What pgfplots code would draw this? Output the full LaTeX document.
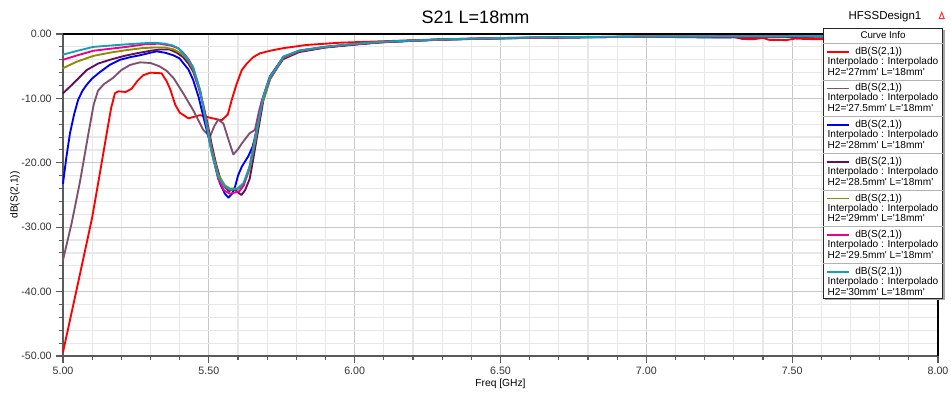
\documentclass[border=0pt]{standalone}
\usepackage{fontspec}
\setmainfont{Liberation Sans}
\usepackage{pgfplots}
\pgfplotsset{compat=1.18}
\definecolor{cRed}{RGB}{255,0,0}
\definecolor{cMauve}{RGB}{128,80,112}
\definecolor{cBlue}{RGB}{0,0,240}
\definecolor{cPurple}{RGB}{96,16,96}
\definecolor{cOlive}{RGB}{140,140,0}
\definecolor{cMag}{RGB}{236,0,140}
\definecolor{cCyan}{RGB}{20,160,180}
\definecolor{gMaj}{RGB}{200,200,200}
\definecolor{gMin}{RGB}{232,232,232}
\definecolor{axGray}{RGB}{90,90,90}
\begin{document}
\begin{tikzpicture}
\useasboundingbox (0,0) rectangle (713.25pt,295.5pt);
\begin{axis}[
  at={(47.25pt,28.5pt)}, anchor=south west,
  scale only axis, width=656.25pt, height=241.5pt,
  xmin=5, xmax=8, ymin=-50, ymax=0,
  axis lines*=left,
  axis line style={axGray, line width=1.3pt},
  xtick={5,5.5,6,6.5,7,7.5,8},
  xticklabels={5.00,5.50,6.00,6.50,7.00,7.50,8.00},
  minor xtick={5.1,5.2,5.3,5.4,5.6,5.7,5.8,5.9,6.1,6.2,6.3,6.4,6.6,6.7,6.8,6.9,7.1,7.2,7.3,7.4,7.6,7.7,7.8,7.9},
  ytick={-50,-40,-30,-20,-10,0},
  yticklabels={-50.00,-40.00,-30.00,-20.00,-10.00,0.00},
  minor ytick={-48,-46,-44,-42,-38,-36,-34,-32,-28,-26,-24,-22,-18,-16,-14,-12,-8,-6,-4,-2},
  grid=both,
  major grid style={draw=gMaj, line width=1pt},
  minor grid style={draw=gMin, line width=0.9pt},
  tick align=outside,
  major tick length=5pt, minor tick length=3pt,
  tick style={axGray, line width=0.8pt},
  ticklabel style={font=\fontsize{8}{9}\selectfont, text=black!80},
  xlabel={Freq [GHz]}, ylabel={dB(S(2,1))},
  xlabel style={font=\fontsize{7.7}{9}\selectfont, at={(axis description cs:0.5,0)}, anchor=center, yshift=-21pt},
  ylabel style={font=\fontsize{7.7}{9}\selectfont, at={(axis description cs:-0.0549,0.5)}, anchor=center},
  every axis plot/.append style={line width=1.4pt, line join=round, line cap=round},
  clip=false,
]
% 27mm
\addplot[cRed] coordinates {
(5.000,-49.4) (5.050,-39.0) (5.100,-28.5) (5.125,-22.0) (5.150,-15.4) (5.165,-11.5) (5.178,-9.2) (5.190,-8.9) (5.215,-9.0) (5.235,-8.5) (5.255,-7.3) (5.275,-6.4) (5.300,-6.0) (5.338,-6.1) (5.355,-7.3) (5.367,-8.5) (5.385,-11.0) (5.400,-12.2) (5.430,-13.1) (5.470,-12.6) (5.504,-13.0) (5.544,-13.4) (5.565,-12.5) (5.580,-10.0) (5.595,-7.8) (5.613,-5.6) (5.630,-4.6) (5.652,-3.6) (5.675,-3.0) (5.710,-2.6) (5.755,-2.2) (5.835,-1.7) (5.950,-1.35) (6.144,-1.05) (6.300,-0.82) (6.500,-0.62) (6.800,-0.47) (7.100,-0.42) (7.300,-0.45) (7.330,-0.78) (7.370,-0.80) (7.400,-0.60) (7.420,-0.90) (7.480,-0.95) (7.510,-0.70) (7.550,-0.78) (7.600,-0.80) (7.700,-0.60) (8.000,-0.40)
};
% 27.5mm
\addplot[cMauve] coordinates {
(5.000,-35.1) (5.030,-29.3) (5.058,-23.0) (5.087,-15.5) (5.105,-11.0) (5.120,-8.8) (5.140,-7.8) (5.172,-6.8) (5.200,-5.6) (5.230,-4.8) (5.264,-4.4) (5.300,-4.5) (5.330,-5.0) (5.355,-5.7) (5.380,-6.9) (5.412,-9.2) (5.446,-11.8) (5.481,-14.9) (5.504,-15.9) (5.520,-14.2) (5.532,-13.3) (5.550,-13.9) (5.568,-16.5) (5.584,-18.7) (5.600,-17.9) (5.613,-17.0) (5.640,-15.4) (5.658,-14.9) (5.672,-12.0) (5.687,-9.6) (5.710,-6.5) (5.738,-4.7) (5.755,-3.6) (5.810,-2.6) (5.900,-2.0) (6.000,-1.6) (6.090,-1.28) (6.190,-1.06) (6.300,-0.86) (6.450,-0.70) (6.600,-0.58) (6.800,-0.48) (7.000,-0.42) (7.300,-0.38) (7.600,-0.36) (8.000,-0.32)
};
% 28mm
\addplot[cBlue] coordinates {
(5.000,-23.2) (5.012,-19.0) (5.024,-15.4) (5.038,-12.5) (5.052,-10.2) (5.067,-8.8) (5.081,-7.9) (5.100,-6.9) (5.127,-5.9) (5.160,-4.8) (5.195,-4.0) (5.230,-3.6) (5.264,-3.3) (5.300,-2.9) (5.321,-2.7) (5.350,-2.9) (5.378,-3.3) (5.400,-3.8) (5.412,-4.5) (5.430,-5.5) (5.446,-7.1) (5.465,-9.8) (5.481,-12.8) (5.496,-15.5) (5.510,-18.0) (5.525,-21.0) (5.538,-23.2) (5.555,-24.8) (5.567,-25.4) (5.580,-24.8) (5.590,-23.7) (5.600,-22.0) (5.613,-20.6) (5.635,-19.0) (5.650,-17.5) (5.664,-15.0) (5.687,-9.8) (5.710,-6.6) (5.738,-4.8) (5.755,-3.6) (5.810,-2.7) (5.900,-2.05) (6.000,-1.6) (6.090,-1.27) (6.190,-1.05) (6.300,-0.85) (6.450,-0.70) (6.600,-0.60) (6.800,-0.50) (7.000,-0.42) (7.240,-0.55) (7.310,-0.50) (7.600,-0.38) (8.000,-0.32)
};
% 28.5mm
\addplot[cPurple] coordinates {
(5.000,-9.2) (5.035,-7.7) (5.081,-5.6) (5.120,-4.6) (5.161,-4.0) (5.210,-3.4) (5.252,-3.0) (5.300,-2.6) (5.333,-2.4) (5.365,-2.4) (5.390,-2.9) (5.412,-3.6) (5.430,-4.6) (5.446,-5.8) (5.465,-8.3) (5.481,-11.0) (5.496,-14.0) (5.510,-17.2) (5.525,-20.2) (5.540,-22.6) (5.555,-23.8) (5.570,-24.4) (5.585,-24.0) (5.600,-24.6) (5.612,-25.0) (5.625,-24.2) (5.640,-22.5) (5.652,-19.5) (5.667,-15.5) (5.687,-10.3) (5.710,-7.0) (5.738,-5.0) (5.755,-3.9) (5.810,-2.8) (5.900,-2.1) (6.000,-1.65) (6.090,-1.30) (6.190,-1.08) (6.300,-0.88) (6.450,-0.72) (6.600,-0.60) (6.800,-0.50) (7.000,-0.42) (7.330,-0.50) (7.450,-0.48) (7.600,-0.38) (8.000,-0.32)
};
% 29mm
\addplot[cOlive] coordinates {
(5.000,-5.3) (5.047,-4.3) (5.104,-3.4) (5.160,-2.9) (5.218,-2.5) (5.270,-2.2) (5.310,-2.1) (5.350,-2.1) (5.380,-2.4) (5.412,-3.2) (5.430,-4.2) (5.446,-5.5) (5.470,-8.8) (5.493,-13.8) (5.510,-17.8) (5.532,-21.8) (5.555,-23.5) (5.573,-24.0) (5.590,-24.0) (5.605,-24.0) (5.620,-23.3) (5.640,-21.0) (5.660,-16.5) (5.680,-11.2) (5.710,-7.0) (5.738,-4.9) (5.755,-3.7) (5.810,-2.65) (5.900,-2.02) (6.000,-1.57) (6.090,-1.26) (6.190,-1.05) (6.300,-0.86) (6.450,-0.70) (6.600,-0.58) (6.800,-0.48) (7.000,-0.40) (7.300,-0.37) (7.600,-0.35) (8.000,-0.30)
};
% 29.5mm
\addplot[cMag] coordinates {
(5.000,-4.0) (5.050,-3.3) (5.104,-2.6) (5.160,-2.3) (5.218,-2.0) (5.280,-1.6) (5.330,-1.5) (5.370,-1.8) (5.395,-2.2) (5.412,-2.9) (5.430,-3.9) (5.446,-5.2) (5.470,-8.8) (5.493,-14.2) (5.510,-18.4) (5.532,-22.5) (5.552,-24.3) (5.573,-24.8) (5.590,-24.6) (5.605,-24.4) (5.620,-23.5) (5.640,-20.5) (5.660,-15.6) (5.680,-10.6) (5.710,-6.8) (5.738,-4.8) (5.755,-3.6) (5.810,-2.6) (5.900,-2.0) (6.000,-1.55) (6.090,-1.25) (6.190,-1.04) (6.300,-0.85) (6.450,-0.69) (6.600,-0.57) (6.800,-0.47) (7.000,-0.40) (7.300,-0.37) (7.600,-0.35) (8.000,-0.30)
};
% 30mm
\addplot[cCyan] coordinates {
(5.000,-3.2) (5.050,-2.6) (5.104,-2.0) (5.160,-1.8) (5.218,-1.6) (5.270,-1.45) (5.310,-1.35) (5.350,-1.5) (5.378,-1.8) (5.400,-2.4) (5.418,-3.3) (5.446,-5.1) (5.470,-8.7) (5.493,-14.4) (5.510,-18.5) (5.532,-22.2) (5.555,-23.7) (5.573,-24.2) (5.595,-24.1) (5.618,-23.2) (5.640,-20.6) (5.664,-14.9) (5.687,-9.7) (5.710,-6.6) (5.738,-4.8) (5.755,-3.5) (5.810,-2.55) (5.900,-1.98) (6.000,-1.52) (6.090,-1.22) (6.190,-1.02) (6.300,-0.83) (6.450,-0.67) (6.600,-0.55) (6.800,-0.45) (7.000,-0.38) (7.300,-0.35) (7.600,-0.33) (8.000,-0.28)
};
\draw[black, line width=1.1pt] (rel axis cs:0,1) -- (rel axis cs:1,1) -- (rel axis cs:1,0);
\end{axis}
\begin{scope}[x=0.75pt,y=0.75pt]
% title and design name
\node[font=\fontsize{13.5}{15}\selectfont] at (475.5,377) {S21 L=18mm};
\node[font=\fontsize{8.6}{10}\selectfont] at (885,377.3) {HFSSDesign1};
\fill[red!80!white] (938.5,375) -- (941.7,383) -- (944.9,375) -- cycle;
\fill[white] (940.2,376.2) -- (941.7,380) -- (943.2,376.2) -- cycle;
% legend box
\fill[black!35] (825.3,93.7) rectangle (944.7,363.7);
\draw[fill=white, draw=black!85, line width=0.6pt] (823.3,95.7) rectangle (942.7,365.7);
\node[font=\fontsize{7.3}{8}\selectfont] at (883,359) {Curve Info};
\draw[black!30, line width=0.6pt] (823.3,350.7) -- (942.7,350.7);
\foreach \k/\col/\h in {0/cRed/27mm,1/cMauve/27.5mm,2/cBlue/28mm,3/cPurple/28.5mm,4/cOlive/29mm,5/cMag/29.5mm,6/cCyan/30mm}{
  \pgfmathsetmacro{\ya}{394-51.7-36.67*\k}
  \pgfmathsetmacro{\yb}{394-61.7-36.67*\k}
  \pgfmathsetmacro{\yc}{394-71.7-36.67*\k}
  \pgfmathsetmacro{\yd}{394-80-36.67*\k}
  \draw[\col, line width=1.3pt] (826.7,\ya) -- (849.3,\ya);
  \node[anchor=west, inner sep=0pt, font=\fontsize{7.6}{8}\selectfont] at (855,\ya) {dB(S(2,1))};
  \node[anchor=west, inner sep=0pt, font=\fontsize{7.6}{8}\selectfont] at (827.3,\yb) {Interpolado : Interpolado};
  \node[anchor=west, inner sep=0pt, font=\fontsize{7.6}{8}\selectfont] at (827.3,\yc) {H2=\textquotesingle\h\textquotesingle{} L=\textquotesingle 18mm\textquotesingle};
  \ifnum\k<6 \draw[black!30, line width=0.6pt] (823.3,\yd) -- (942.7,\yd); \fi
}
\end{scope}
\end{tikzpicture}
\end{document}
